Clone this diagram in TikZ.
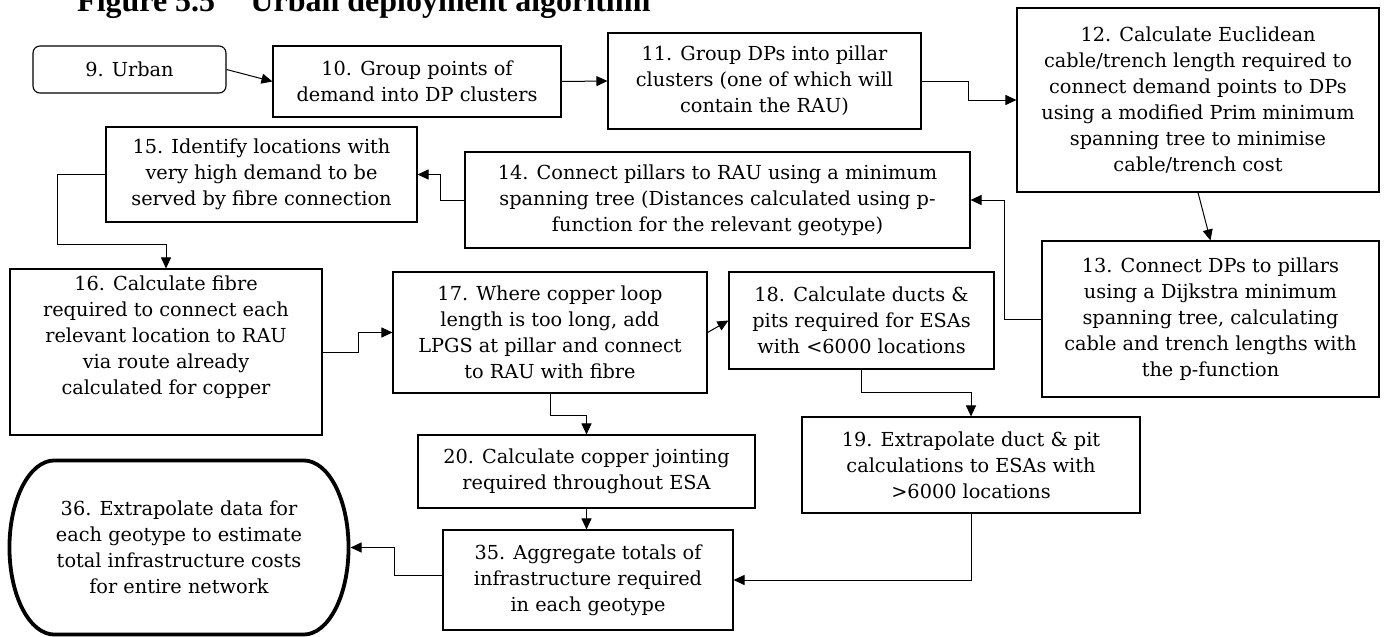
\documentclass[tikz,border=0pt]{standalone}
\usepackage{fontspec}
\setmainfont{DejaVu Serif}
\newfontfamily\titlefont{Liberation Serif}
\usetikzlibrary{arrows.meta,calc}
\begin{document}
\begin{tikzpicture}[x=1pt,y=-1pt,
  box/.style={draw, line width=1.1pt, align=center, inner sep=0pt,
    font=\fontsize{19.3}{26}\selectfont},
  link/.style={line width=1pt, -{Triangle[length=11pt,width=10pt]}},
]
\useasboundingbox (0,0) rectangle (1385,637);
\fill[white] (0,0) rectangle (1385,637);

% heading
\node[anchor=base west, inner sep=0pt,
  font=\titlefont\bfseries\fontsize{32}{36}\selectfont] (title) at (77,12)
  {Figure 5.5\hspace{1.1em}Urban deployment algorithm};

% process steps
\node[box, rounded corners=7pt, minimum width=193pt, minimum height=47pt] (n9) at (129.5,69.5) {9. Urban};
\node[box, minimum width=288pt, minimum height=71pt] (n10) at (417,81.5)
  {10. Group points of\\demand into DP clusters};
\node[box, minimum width=313pt, minimum height=96pt] (n11) at (764.5,81)
  {11. Group DPs into pillar\\clusters (one of which will\\contain the RAU)};
\node[box, minimum width=362pt, minimum height=184pt] (n12) at (1198,100)
  {12. Calculate Euclidean\\cable/trench length required to\\connect demand points to DPs\\using a modified Prim minimum\\spanning tree to minimise\\cable/trench cost};
\node[box, minimum width=337pt, minimum height=156pt] (n13) at (1210.5,319)
  {13. Connect DPs to pillars\\using a Dijkstra minimum\\spanning tree, calculating\\cable and trench lengths with\\the p-function};
\node[box, minimum width=505pt, minimum height=96pt] (n14) at (717.5,200)
  {14. Connect pillars to RAU using a minimum\\spanning tree (Distances calculated using p-\\function for the relevant geotype)};
\node[box, minimum width=311pt, minimum height=95pt] (n15) at (261.5,174.5)
  {15. Identify locations with\\very high demand to be\\served by fibre connection};
\node[box, minimum width=312pt, minimum height=166pt] (n16) at (166,352)
  {16. Calculate fibre\\required to connect each\\relevant location to RAU\\via route already\\calculated for copper\\\strut};
\node[box, minimum width=314pt, minimum height=121pt] (n17) at (550,332.5)
  {17. Where copper loop\\length is too long, add\\LPGS at pillar and connect\\to RAU with fibre};
\node[box, minimum width=265pt, minimum height=97pt] (n18) at (861.5,320.5)
  {18. Calculate ducts \&\\pits required for ESAs\\with <6000 locations};
\node[box, minimum width=338pt, minimum height=96pt] (n19) at (971,465)
  {19. Extrapolate duct \& pit\\calculations to ESAs with\\>6000 locations};
\node[box, minimum width=337pt, minimum height=73pt] (n20) at (586.5,471.5)
  {20. Calculate copper jointing\\required throughout ESA};
\node[box, minimum width=290pt, minimum height=100pt] (n35) at (588,580)
  {35. Aggregate totals of\\infrastructure required\\in each geotype};
\node[box, draw=none, minimum width=338pt, minimum height=173pt] (n36) at (179,547.5)
  {36. Extrapolate data for\\each geotype to estimate\\total infrastructure costs\\for entire network};

% terminal outline with elliptical ends
\draw[line width=3.8pt]
  ($(n36.north west)+(45,0)$) -- ($(n36.north east)+(-45,0)$)
  .. controls ($(n36.north east)+(-20,0)$) and ($(n36.east)+(0,-48)$) .. (n36.east)
  .. controls ($(n36.east)+(0,48)$) and ($(n36.south east)+(-20,0)$) .. ($(n36.south east)+(-45,0)$)
  -- ($(n36.south west)+(45,0)$)
  .. controls ($(n36.south west)+(20,0)$) and ($(n36.west)+(0,48)$) .. (n36.west)
  .. controls ($(n36.west)+(0,-48)$) and ($(n36.north west)+(20,0)$) .. cycle;

% flow
\draw[link] (n9.east) -- (n10.west);
\draw[link] (n10.east) -- (n11.west);
\draw[link] (n11.east) -- ++(47,0) |- (n12.west);
\draw[link] (n12.south) -- (n13.north);
\draw[link] (n13.west) -- ++(-37,0) |- (n14.east);
\draw[link] (n14.west) -- ++(-24,0) |- (n15.east);
\draw[link] (n15.west) -- ++(-48,0) |- ($(n16.north)+(0,-24)$) -- (n16.north);
\draw[link] (n16.east) -- ++(36,0) |- (n17.west);
\draw[link] (n17.east) -- (n18.west);
\draw[link] (n17.south) -- ++(0,22) -| (n20.north);
\draw[link] (n20.south) -- (n20.south |- n35.north);
\draw[link] (n18.south) -- ++(0,23) -| (n19.north);
\draw[link] (n19.south) |- (n35.east);
\draw[link, shorten >=2pt] ($(n35.west)+(0,-5)$) -- ++(-48,0) |- (n36.east);
\end{tikzpicture}
\end{document}
